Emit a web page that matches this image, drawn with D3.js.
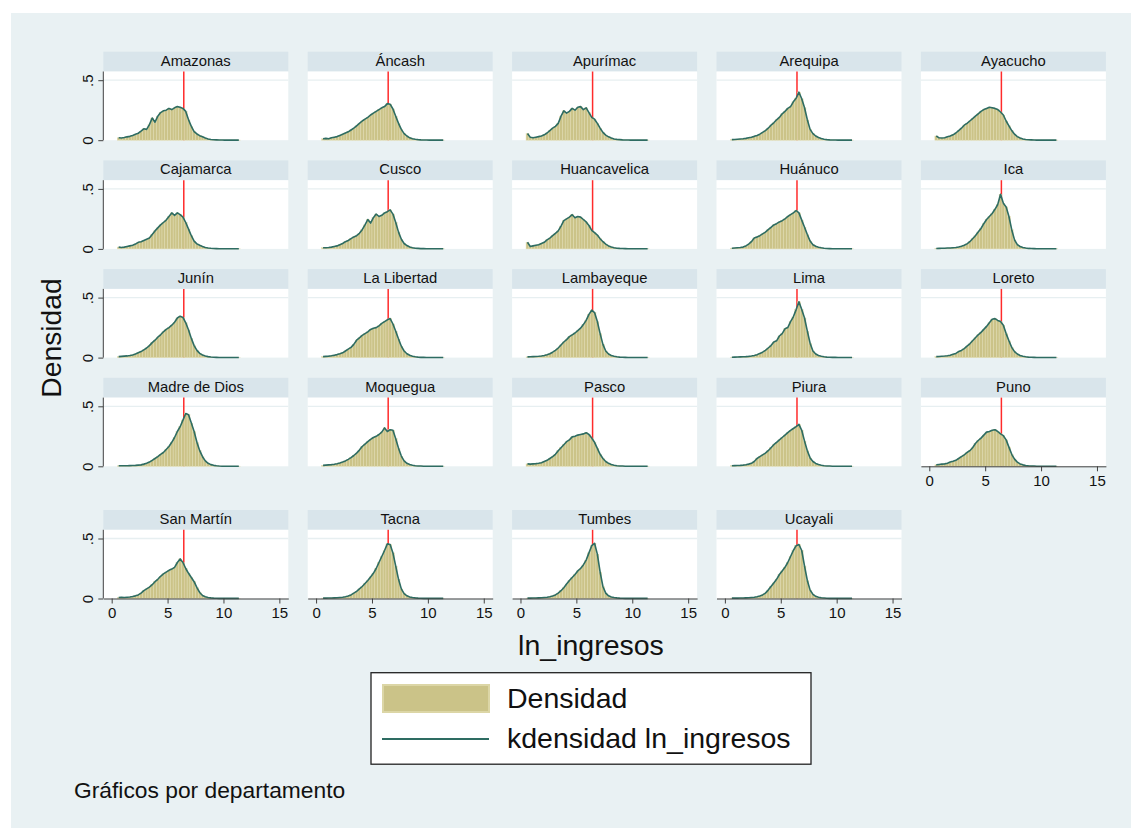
<!DOCTYPE html>
<html><head><meta charset="utf-8">
<script src="https://cdn.jsdelivr.net/npm/d3@7"></script>
<style>body{margin:0;background:#fff}svg{display:block}text{font-family:"Liberation Sans",Arial,Helvetica,sans-serif}</style>
</head><body><svg id="c" width="1131" height="828"></svg>
<script>
// ---------- DATA ----------
const departments = ["Amazonas","Áncash","Apurímac","Arequipa","Ayacucho",
  "Cajamarca","Cusco","Huancavelica","Huánuco","Ica",
  "Junín","La Libertad","Lambayeque","Lima","Loreto",
  "Madre de Dios","Moquegua","Pasco","Piura","Puno",
  "San Martín","Tacna","Tumbes","Ucayali"];

const binCenters = [0.625,0.875,1.125,1.375,1.625,1.875,2.125,2.375,2.625,2.875,3.125,
  3.375,3.625,3.875,4.125,4.375,4.625,4.875,5.125,5.375,5.625,5.875,
  6.125,6.375,6.625,6.875,7.125,7.375,7.625,7.875,8.125,8.375,8.625,
  8.875,9.125,9.375,9.625,9.875,10.125,10.375,10.625,10.875,11.125,11.375];
const binWidth = 0.25;

const xTicks = [0,5,10,15];
const xTickLabels = ["0","5","10","15"];
const yTicks = [0,0.5];
const yTickLabels = ["0",".5"];
const referenceLine = 6.45;
const yMax = 0.5725;
const xDomain = [-0.75,15.8];

const amazonas = [.020,.018,.022,.028,.032,.040,.050,.058,.075,.095,.090,
 .130,.185,.150,.200,.230,.245,.250,.265,.255,.270,.280,
 .275,.265,.240,.170,.115,.072,.052,.038,.028,.018,.010,
 .006,.004,.003,.002,.002,.001,.001,.001,.001,.001,.001];
const ancash = [.012,.015,.012,.020,.025,.030,.040,.050,.060,.070,.085,
 .100,.120,.140,.160,.175,.190,.210,.225,.240,.255,.270,
 .280,.305,.300,.260,.200,.140,.090,.055,.035,.020,.012,
 .008,.005,.003,.002,.002,.001,.001,.001,.001,.001,.001];
const apurimac = [.055,.025,.020,.025,.030,.035,.045,.060,.080,.100,.115,
 .140,.200,.245,.225,.240,.265,.250,.275,.280,.255,.270,
 .230,.190,.175,.140,.100,.065,.042,.028,.018,.010,.007,
 .005,.003,.002,.002,.001,.001,.001,.001,.001,.001,.001];
const arequipa = [.005,.006,.008,.010,.012,.015,.020,.025,.032,.040,.050,
 .065,.080,.100,.125,.145,.170,.190,.220,.240,.265,.280,
 .320,.350,.400,.345,.270,.170,.090,.055,.035,.022,.014,
 .008,.005,.003,.002,.002,.001,.001,.001,.001,.001,.001];
const ayacucho = [.035,.020,.018,.020,.028,.035,.045,.060,.080,.100,.125,
 .140,.160,.180,.200,.220,.240,.255,.265,.275,.270,.265,
 .255,.235,.210,.160,.120,.080,.050,.030,.018,.010,.006,
 .004,.003,.002,.001,.001,.001,.001,.001,.001,.001,.001];
const cajamarca = [.015,.012,.015,.020,.025,.030,.040,.055,.060,.070,.080,
 .090,.120,.150,.175,.200,.220,.240,.270,.300,.280,.300,
 .285,.265,.220,.165,.110,.065,.042,.030,.020,.012,.008,
 .005,.003,.002,.001,.001,.001,.001,.001,.001,.001,.001];
const cusco = [.010,.010,.012,.015,.020,.025,.035,.045,.060,.070,.085,
 .100,.110,.130,.160,.200,.245,.215,.260,.290,.270,.280,
 .300,.310,.325,.290,.220,.140,.080,.045,.028,.016,.010,
 .006,.004,.002,.002,.001,.001,.001,.001,.001,.001,.001];
const huancavelica = [.055,.020,.025,.030,.035,.045,.055,.075,.090,.110,.130,
 .150,.190,.235,.250,.265,.285,.260,.270,.265,.245,.225,
 .195,.155,.135,.115,.085,.060,.040,.025,.016,.010,.006,
 .004,.003,.002,.001,.001,.001,.001,.001,.001,.001,.001];
const huanuco = [.006,.008,.010,.012,.015,.025,.040,.060,.090,.100,.110,
 .125,.140,.160,.180,.200,.210,.225,.235,.250,.270,.285,
 .300,.320,.300,.240,.180,.120,.065,.035,.022,.014,.009,
 .005,.003,.002,.001,.001,.001,.001,.001,.001,.001,.001];
const ica = [.003,.004,.005,.006,.007,.008,.010,.012,.016,.022,.030,
 .042,.060,.085,.110,.140,.170,.210,.245,.270,.295,.330,
 .370,.455,.380,.350,.270,.160,.075,.035,.020,.012,.007,
 .004,.003,.002,.001,.001,.001,.001,.001,.001,.001,.001];
const junin = [.008,.010,.012,.014,.017,.022,.030,.040,.050,.065,.080,
 .100,.125,.145,.170,.190,.215,.235,.250,.270,.295,.330,
 .345,.335,.290,.230,.160,.100,.060,.035,.022,.013,.008,
 .005,.003,.002,.001,.001,.001,.001,.001,.001,.001,.001];
const laLibertad = [.008,.010,.012,.015,.020,.025,.032,.040,.055,.070,.085,
 .110,.145,.165,.185,.200,.215,.235,.245,.250,.265,.285,
 .300,.315,.325,.280,.220,.155,.095,.055,.032,.020,.012,
 .007,.004,.002,.002,.001,.001,.001,.001,.001,.001,.001];
const lambayeque = [.006,.007,.008,.009,.011,.014,.018,.024,.032,.045,.060,
 .080,.105,.130,.150,.175,.190,.205,.225,.245,.275,.310,
 .360,.395,.375,.300,.200,.110,.055,.030,.018,.011,.007,
 .004,.003,.002,.001,.001,.001,.001,.001,.001,.001,.001];
const lima = [.003,.004,.005,.006,.007,.008,.010,.013,.018,.024,.035,
 .045,.060,.080,.100,.130,.140,.180,.200,.240,.250,.300,
 .340,.400,.465,.400,.330,.220,.120,.055,.030,.018,.011,
 .007,.004,.003,.002,.002,.001,.001,.001,.001,.001,.001];
const loreto = [.008,.009,.011,.013,.016,.020,.028,.035,.050,.060,.075,
 .095,.115,.140,.165,.190,.210,.235,.260,.290,.320,.325,
 .310,.300,.270,.200,.140,.085,.050,.030,.018,.011,.007,
 .004,.003,.002,.001,.001,.001,.001,.001,.001,.001,.001];
const madreDeDios = [.004,.004,.005,.005,.006,.007,.008,.010,.012,.018,.025,
 .035,.050,.065,.080,.100,.115,.140,.165,.200,.240,.290,
 .330,.385,.440,.430,.360,.290,.200,.130,.080,.045,.025,
 .014,.008,.004,.002,.001,.001,.001,.001,.001,.001,.001];
const moquegua = [.008,.010,.012,.014,.017,.022,.028,.035,.045,.058,.072,
 .090,.110,.135,.165,.185,.205,.225,.240,.250,.265,.285,
 .320,.290,.305,.300,.230,.150,.085,.045,.025,.015,.009,
 .005,.003,.002,.001,.001,.001,.001,.001,.001,.001,.001];
const pasco = [.020,.018,.020,.022,.025,.030,.040,.050,.065,.080,.100,
 .130,.155,.180,.205,.220,.245,.250,.260,.265,.270,.280,
 .265,.235,.200,.150,.100,.065,.040,.025,.015,.009,.005,
 .003,.002,.001,.001,.001,.001,.001,.001,.001,.001,.001];
const piura = [.005,.006,.007,.008,.010,.013,.018,.025,.040,.065,.080,
 .095,.110,.130,.155,.180,.200,.220,.240,.260,.280,.300,
 .315,.330,.350,.300,.210,.130,.070,.040,.024,.015,.009,
 .005,.003,.002,.001,.001,.001,.001,.001,.001,.001,.001];
const puno = [.012,.015,.018,.020,.025,.035,.042,.050,.065,.080,.095,
 .115,.130,.155,.190,.215,.235,.260,.285,.290,.300,.305,
 .290,.270,.255,.220,.160,.100,.060,.035,.020,.012,.007,
 .004,.003,.002,.001,.001,.001,.001,.001,.001,.001,.001];
const sanMartin = [.008,.010,.008,.010,.012,.016,.022,.030,.045,.065,.080,
 .095,.115,.140,.160,.185,.205,.220,.235,.245,.260,.300,
 .330,.300,.250,.210,.175,.140,.090,.050,.025,.014,.008,
 .005,.003,.002,.001,.001,.001,.001,.001,.001,.001,.001];
const tacna = [.003,.003,.004,.004,.005,.006,.008,.010,.014,.020,.030,
 .045,.060,.080,.100,.125,.150,.180,.210,.250,.300,.350,
 .400,.455,.450,.380,.270,.160,.080,.040,.022,.013,.008,
 .005,.003,.002,.001,.001,.001,.001,.001,.001,.001,.001];
const tumbes = [.003,.003,.004,.004,.005,.006,.008,.010,.014,.020,.030,
 .045,.065,.090,.120,.150,.175,.200,.230,.250,.280,.320,
 .380,.440,.460,.370,.220,.100,.045,.022,.012,.008,.005,
 .003,.002,.001,.001,.001,.001,.001,.001,.001,.001,.001];
const ucayali = [.003,.003,.003,.004,.004,.005,.006,.008,.010,.014,.020,
 .030,.045,.070,.100,.130,.160,.200,.230,.260,.300,.350,
 .400,.440,.450,.400,.270,.150,.070,.035,.018,.010,.006,
 .004,.002,.001,.001,.001,.001,.001,.001,.001,.001,.001];

const densities = [amazonas,ancash,apurimac,arequipa,ayacucho,
  cajamarca,cusco,huancavelica,huanuco,ica,
  junin,laLibertad,lambayeque,lima,loreto,
  madreDeDios,moquegua,pasco,piura,puno,
  sanMartin,tacna,tumbes,ucayali];

const legendLabels = ["Densidad","kdensidad ln_ingresos"];
const xTitle = "ln_ingresos", yTitle = "Densidad", note = "Gráficos por departamento";

// ---------- LAYOUT ----------
const svg = d3.select("#c");
const C = {bg:"#e9f1f3", strip:"#d9e5eb", bar:"#cbc388", barEdge:"#e0dbb2", kline:"#2e6c62", ref:"#ff2b2b", axis:"#404040", grid:"#e7eff1"};
svg.append("rect").attr("x",11).attr("y",13).attr("width",1120).attr("height",815).attr("fill",C.bg);

const colLeft = c => 103.3 + c*204.4;
const rowTop = [51.7,160.4,269.1,377.8,510];
const headerH = 19.8, plotH = 68.7, plotW = 185;

const x = d3.scaleLinear().domain(xDomain).range([0,plotW]);
const y = d3.scaleLinear().domain([0,yMax]).range([plotH,0]);
const line = d3.line().x((d,i)=>x(binCenters[i])).y(d=>y(d));

departments.forEach((name,i)=>{
  const r = Math.floor(i/5), c = i%5;
  const g = svg.append("g").attr("transform",`translate(${colLeft(c)},${rowTop[r]+headerH})`);
  g.append("rect").attr("x",0).attr("y",-headerH).attr("width",plotW).attr("height",headerH).attr("fill",C.strip);
  g.append("text").attr("x",plotW/2).attr("y",-5.8).attr("text-anchor","middle").attr("font-size",14.8).attr("fill","#111").text(name);
  g.append("rect").attr("width",plotW).attr("height",plotH).attr("fill","#fff");
  g.append("line").attr("x1",0).attr("x2",plotW).attr("y1",y(0.5)).attr("y2",y(0.5)).attr("stroke",C.grid).attr("stroke-width",1.3);
  g.append("line").attr("x1",x(referenceLine)).attr("x2",x(referenceLine)).attr("y1",0).attr("y2",plotH).attr("stroke",C.ref).attr("stroke-width",1.5);
  const vals = densities[i];
  g.selectAll("rect.bar").data(vals).join("rect").attr("class","bar")
    .attr("x",(d,k)=>x(binCenters[k]-binWidth/2))
    .attr("width",x(binWidth)-x(0))
    .attr("y",d=>y(d)).attr("height",d=>plotH-y(d))
    .attr("fill",C.bar).attr("stroke",C.barEdge).attr("stroke-width",0.5);
  g.append("path").datum(vals).attr("d",line).attr("fill","none").attr("stroke",C.kline).attr("stroke-width",1.6).attr("stroke-linejoin","round");

  if (c===0){
    const ay = g.append("g").call(d3.axisLeft(y).tickValues(yTicks).tickSize(5).tickSizeOuter(0).tickFormat((d,k)=>yTickLabels[k]));
    ay.select(".domain").attr("stroke",C.axis).attr("d",`M0,0V${plotH}`);
    ay.selectAll(".tick line").attr("stroke",C.axis);
    ay.selectAll(".tick text").attr("transform","rotate(-90)").attr("x",0).attr("y",-10.5).attr("dy",0)
      .attr("text-anchor","middle").attr("font-size",15).attr("fill","#111").style("font-family",'"Liberation Sans",Arial,sans-serif');
  }
  if (i>=19){
    const ax = g.append("g").attr("transform",`translate(0,${plotH})`)
      .call(d3.axisBottom(x).tickValues(xTicks).tickSize(5).tickSizeOuter(0).tickFormat((d,k)=>xTickLabels[k]));
    ax.select(".domain").attr("stroke",C.axis);
    ax.selectAll(".tick line").attr("stroke",C.axis);
    ax.selectAll(".tick text").attr("y",9).attr("dy","0.71em").attr("font-size",15).attr("fill","#111").style("font-family",'"Liberation Sans",Arial,sans-serif');
  }
});

// axis titles
svg.append("text").attr("transform","translate(61,338) rotate(-90)").attr("text-anchor","middle").attr("font-size",28.3).attr("fill","#111").text(yTitle);
svg.append("text").attr("x",591).attr("y",655).attr("text-anchor","middle").attr("font-size",28.5).attr("fill","#111").text(xTitle);

// legend
const lg = svg.append("g");
lg.append("rect").attr("x",371).attr("y",672.7).attr("width",440).attr("height",91.5).attr("fill","#fff").attr("stroke","#222").attr("stroke-width",1.3);
lg.append("rect").attr("x",383).attr("y",685).attr("width",106).attr("height",27).attr("fill",C.bar).attr("stroke","#dcd6a6").attr("stroke-width",2);
lg.append("text").attr("x",507).attr("y",708.3).attr("font-size",28.5).attr("fill","#111").text(legendLabels[0]);
lg.append("line").attr("x1",382).attr("x2",489).attr("y1",739).attr("y2",739).attr("stroke",C.kline).attr("stroke-width",2);
lg.append("text").attr("x",507).attr("y",748.3).attr("font-size",28.5).attr("fill","#111").text(legendLabels[1]);

svg.append("text").attr("x",74).attr("y",798).attr("font-size",22.8).attr("fill","#111").text(note);
</script></body></html>
